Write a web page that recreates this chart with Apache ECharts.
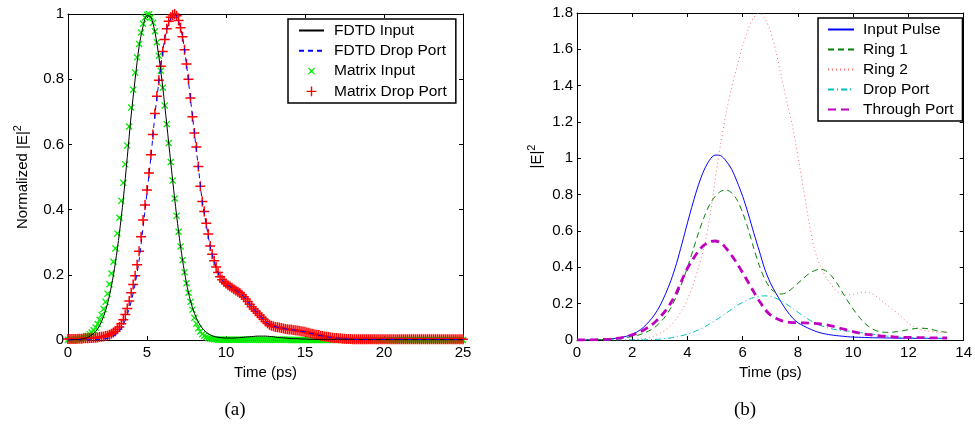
<!DOCTYPE html>
<html>
<head>
<meta charset="utf-8">
<script src="https://cdn.jsdelivr.net/npm/echarts@6/dist/echarts.min.js"></script>
<style>
html,body{margin:0;padding:0;background:#fff;}
#chart{width:975px;height:424px;}
</style>
</head>
<body>
<div id="chart"></div>
<script>
// ---------- Panel (a) ----------
const lineStepA = 0.25;      // ps between FDTD samples (0..25)
const markerStepA = 0.125;   // ps between matrix-method markers (0..25)
const xTicksA = [0, 25, 5];
const yTicksA = [0, 1, 0.2];

const fdtdInput = [
0,0.001,0.001,0.002,0.004,0.008,0.015,0.026,0.044,0.072,
0.111,0.166,0.237,0.327,0.432,0.56,0.69,0.80,0.90,0.962,
0.995,0.990,0.945,0.870,0.774,0.662,0.546,0.434,0.332,0.245,
0.174,0.120,0.082,0.055,0.036,0.024,0.016,0.011,0.008,0.007,
0.006,0.006,0.006,0.007,0.008,0.009,0.010,0.011,0.012,0.012,
0.012,0.011,0.010,0.008,0.007,0.006,0.005,0.004,0.004,0.003,
0.003,0.002,0.002,0.002,0.002,0.002,0.002,0.002,0.002,0.002,
0.002,0.002,0.002,0.001,0.001,0.001,0.001,0.001,0.001,0.001,
0.001,0.001,0.001,0.001,0.001,0.001,0.001,0.001,0.001,0.001,
0.001,0.001,0.001,0.001,0.001,0.001,0.001,0.001,0.001,0.001,
0.001];

const fdtdDrop = [
0,0,0,0,0,0,0.001,0.001,0.002,0.003,
0.005,0.009,0.016,0.027,0.047,0.077,0.118,0.172,0.245,0.345,
0.452,0.563,0.690,0.792,0.886,0.952,0.985,1.000,0.978,0.930,
0.845,0.740,0.635,0.530,0.425,0.355,0.287,0.242,0.206,0.184,
0.172,0.164,0.156,0.148,0.139,0.126,0.110,0.095,0.082,0.070,
0.056,0.047,0.042,0.039,0.037,0.034,0.032,0.031,0.029,0.027,
0.025,0.022,0.019,0.016,0.013,0.011,0.009,0.007,0.006,0.005,
0.004,0.003,0.002,0.002,0.002,0.002,0.002,0.002,0.002,0.002,
0.002,0.002,0.002,0.002,0.002,0.001,0.001,0.001,0.001,0.001,
0.001,0.001,0.001,0.001,0.001,0.001,0.001,0.001,0.001,0.001,
0.001];

const matrixInput = [
0.001,0.001,0.001,0.001,0.002,0.003,0.004,0.005,0.007,0.010,
0.013,0.018,0.023,0.030,0.038,0.049,0.062,0.077,0.095,0.117,
0.142,0.171,0.204,0.240,0.281,0.327,0.375,0.427,0.482,0.539,
0.597,0.655,0.713,0.768,0.820,0.867,0.908,0.943,0.970,0.989,
0.998,0.999,0.990,0.973,0.947,0.913,0.872,0.826,0.774,0.719,
0.662,0.604,0.546,0.489,0.434,0.381,0.332,0.287,0.245,0.208,
0.174,0.145,0.117,0.093,0.068,0.050,0.036,0.026,0.018,0.013,
0.009,0.006,0.004,0.003,0.002,0.002,0.001,0.001,0.001,0.001,
0.001,0.001,0.001,0.001,0.001,0.001,0.001,0.001,0.001,0.001,
0.001,0.001,0.001,0.001,0.001,0.001,0.001,0.001,0.001,0.001,
0.001,0.001,0.001,0.001,0.001,0.001,0.001,0.001,0.001,0.001,
0.001,0.001,0.001,0,0,0,0,0,0,0,
0,0,0,0,0,0,0,0,0,0,
0,0,0,0,0,0,0,0,0,0,
0,0,0,0,0,0,0,0,0,0,
0,0,0,0,0,0,0,0,0,0,
0,0,0,0,0,0,0,0,0,0,
0,0,0,0,0,0,0,0,0,0,
0,0,0,0,0,0,0,0,0,0,
0,0,0,0,0,0,0,0,0,0,
0];

const matrixDrop = [
0.003,0.003,0.003,0.003,0.003,0.004,0.004,0.004,0.005,0.005,
0.005,0.006,0.006,0.007,0.007,0.008,0.009,0.010,0.011,0.012,
0.014,0.016,0.019,0.023,0.027,0.033,0.040,0.050,0.062,0.078,
0.097,0.120,0.145,0.170,0.197,0.231,0.272,0.317,0.368,0.414,
0.460,0.512,0.568,0.630,0.695,0.748,0.797,0.840,0.885,0.922,
0.955,0.978,0.990,0.997,1.000,0.995,0.980,0.958,0.930,0.890,
0.847,0.800,0.742,0.685,0.635,0.592,0.532,0.472,0.425,0.394,
0.358,0.325,0.288,0.263,0.243,0.224,0.207,0.194,0.185,0.178,
0.173,0.168,0.164,0.160,0.156,0.152,0.148,0.144,0.139,0.133,
0.126,0.118,0.110,0.102,0.095,0.088,0.082,0.076,0.070,0.064,
0.057,0.051,0.047,0.044,0.042,0.040,0.039,0.038,0.037,0.035,
0.034,0.033,0.032,0.032,0.031,0.030,0.029,0.028,0.027,0.026,
0.025,0.023,0.022,0.020,0.019,0.017,0.016,0.015,0.013,0.012,
0.011,0.010,0.009,0.008,0.007,0.006,0.006,0.005,0.005,0.004,
0.004,0.003,0.003,0.003,0.002,0.002,0.002,0.002,0.002,0.002,
0.002,0.002,0.002,0.002,0.002,0.002,0.002,0.002,0.002,0.002,
0.002,0.002,0.002,0.002,0.002,0.002,0.002,0.002,0.002,0.002,
0.002,0.002,0.002,0.002,0.002,0.002,0.002,0.002,0.002,0.002,
0.002,0.002,0.002,0.002,0.002,0.002,0.002,0.002,0.002,0.002,
0.002,0.002,0.002,0.002,0.002,0.002,0.002,0.002,0.002,0.002,
0.002];

// ---------- Panel (b) ----------
const lineStepB = 0.2;       // ps between samples (0..13.4)
const xTicksB = [0, 14, 2];
const yTicksB = [0, 1.8, 0.2];

const inputPulse = [
0,0,0.001,0.001,0.002,0.003,0.005,0.009,0.014,0.021,
0.032,0.047,0.069,0.100,0.138,0.187,0.252,0.327,0.420,0.530,
0.645,0.755,0.855,0.935,0.990,1.018,1.015,0.985,0.940,0.870,
0.790,0.695,0.590,0.490,0.390,0.315,0.258,0.207,0.160,0.122,
0.095,0.078,0.063,0.050,0.040,0.033,0.028,0.024,0.021,0.018,
0.016,0.015,0.014,0.013,0.012,0.012,0.011,0.011,0.010,0.010,
0.010,0.009,0.009,0.009,0.009,0.009,0.009,0.009];

const ring1 = [
0,0,0,0.001,0.002,0.003,0.005,0.007,0.010,0.014,
0.019,0.026,0.036,0.050,0.068,0.095,0.130,0.178,0.240,0.315,
0.400,0.495,0.590,0.675,0.745,0.790,0.818,0.826,0.810,0.770,
0.700,0.610,0.505,0.410,0.335,0.285,0.260,0.253,0.262,0.285,
0.312,0.340,0.365,0.382,0.390,0.382,0.355,0.315,0.265,0.215,
0.170,0.130,0.095,0.070,0.053,0.045,0.042,0.043,0.046,0.051,
0.057,0.062,0.065,0.064,0.059,0.052,0.046,0.042];

const ring2 = [
0,0,0,0,0,0,0,0,0,0,
0.002,0.004,0.007,0.012,0.022,0.036,0.055,0.082,0.118,0.165,
0.225,0.300,0.400,0.510,0.670,0.880,1.080,1.250,1.390,1.510,
1.620,1.710,1.775,1.800,1.770,1.700,1.590,1.450,1.310,1.180,
1.010,0.830,0.650,0.500,0.410,0.350,0.305,0.268,0.252,0.248,
0.252,0.260,0.263,0.260,0.245,0.220,0.195,0.170,0.148,0.120,
0.092,0.073,0.060,0.052,0.047,0.044,0.041,0.039];

const dropPort = [
0,0,0,0,0,0,0,0,0,0,
0.001,0.001,0.001,0.002,0.003,0.005,0.008,0.012,0.017,0.024,
0.032,0.043,0.056,0.071,0.088,0.107,0.127,0.148,0.170,0.190,
0.208,0.223,0.234,0.241,0.243,0.240,0.230,0.215,0.196,0.175,
0.153,0.132,0.112,0.095,0.081,0.070,0.062,0.056,0.052,0.049,
0.046,0.042,0.038,0.034,0.030,0.026,0.022,0.019,0.016,0.014,
0.012,0.011,0.010,0.010,0.009,0.009,0.009,0.009];

const throughPort = [
0,0,0.001,0.001,0.002,0.003,0.005,0.008,0.012,0.019,
0.028,0.039,0.054,0.072,0.095,0.125,0.160,0.205,0.260,0.330,
0.395,0.445,0.490,0.522,0.540,0.545,0.535,0.505,0.465,0.420,
0.370,0.318,0.265,0.215,0.170,0.138,0.120,0.107,0.099,0.096,
0.095,0.094,0.093,0.091,0.088,0.084,0.078,0.070,0.062,0.054,
0.046,0.039,0.033,0.029,0.025,0.022,0.020,0.018,0.016,0.015,
0.014,0.014,0.013,0.013,0.012,0.012,0.011,0.011];

// ---------- build ----------
const FONT = '"Liberation Sans", Arial, Helvetica, sans-serif';
const toPairs = (arr, step) => arr.map((v, i) => [Math.round(i * step * 1000) / 1000, v]);

const PLUS = 'path://M4.25,0 L5.75,0 L5.75,4.25 L10,4.25 L10,5.75 L5.75,5.75 L5.75,10 L4.25,10 L4.25,5.75 L0,5.75 L0,4.25 L4.25,4.25 Z';
const CROSS = 'path://M0,1.3 L1.3,0 L5,3.7 L8.7,0 L10,1.3 L6.3,5 L10,8.7 L8.7,10 L5,6.3 L1.3,10 L0,8.7 L3.7,5 Z';
const PLUS_ICON = 'path://M0,0 M25,14 M11.8,2.2 L13.2,2.2 L13.2,6.3 L17.3,6.3 L17.3,7.7 L13.2,7.7 L13.2,11.8 L11.8,11.8 L11.8,7.7 L7.7,7.7 L7.7,6.3 L11.8,6.3 Z';
const CROSS_ICON = 'path://M0,0 M25,14 M9,4.4 L9.9,3.5 L12.5,6.1 L15.1,3.5 L16,4.4 L13.4,7 L16,9.6 L15.1,10.5 L12.5,7.9 L9.9,10.5 L9,9.6 L11.6,7 Z';
const NO_SYMBOL = {opacity: 0};
const SUP = {s: {fontFamily: FONT, fontSize: 11, verticalAlign: 'top', lineHeight: 11, color: '#000'}};

function mkX(gridIndex, ticks, pos, withLabels, name) {
  return {
    type: 'value', gridIndex, position: pos,
    min: ticks[0], max: ticks[1], interval: ticks[2],
    axisLine: {show: true, onZero: false, lineStyle: {color: '#000', width: 1}},
    axisTick: {show: true, inside: true, length: 4, lineStyle: {color: '#000'}},
    axisLabel: {show: withLabels, color: '#000', fontFamily: FONT, fontSize: 15, margin: 5},
    splitLine: {show: false},
    name: name || '', nameLocation: 'middle', nameGap: 23,
    nameTextStyle: {color: '#000', fontFamily: FONT, fontSize: 15}
  };
}
function mkY(gridIndex, ticks, pos, withLabels, name, gap, pad) {
  return {
    type: 'value', gridIndex, position: pos,
    min: ticks[0], max: ticks[1], interval: ticks[2],
    axisLine: {show: true, onZero: false, lineStyle: {color: '#000', width: 1}},
    axisTick: {show: true, inside: true, length: 4, lineStyle: {color: '#000'}},
    axisLabel: {show: withLabels, color: '#000', fontFamily: FONT, fontSize: 15, margin: 4},
    splitLine: {show: false},
    name: name || '', nameLocation: 'middle', nameRotate: 90, nameGap: gap || 30,
    nameTextStyle: {color: '#000', fontFamily: FONT, fontSize: 15, lineHeight: 22, verticalAlign: 'bottom', padding: pad || 0, rich: SUP}
  };
}

const legendCommon = {
  orient: 'vertical', itemHeight: 14, selectedMode: false,
  borderColor: '#000', borderWidth: 1.5, backgroundColor: '#fff',
  textStyle: {fontFamily: FONT, fontSize: 15.5, color: '#000', padding: [0, 0, 0, 5]}
};

const option = {
  animation: false,
  backgroundColor: '#fff',
  grid: [
    {left: 68, top: 14, width: 395, height: 326},
    {left: 577, top: 13, width: 390, height: 327}
  ],
  xAxis: [
    mkX(0, xTicksA, 'bottom', true, 'Time (ps)'),
    mkX(0, xTicksA, 'top', false),
    mkX(1, xTicksB, 'bottom', true, 'Time (ps)'),
    mkX(1, xTicksB, 'top', false)
  ],
  yAxis: [
    mkY(0, yTicksA, 'left', true, 'Normalized |E|{s|2}', 34),
    mkY(0, yTicksA, 'right', false),
    mkY(1, yTicksB, 'left', true, '|E|{s|2}', 26, [0, 0, 0, 40]),
    mkY(1, yTicksB, 'right', false)
  ],
  legend: [
    Object.assign({}, legendCommon, {
      left: 288, top: 19, itemWidth: 25, itemGap: 4.3,
      padding: [3.5, 9, 3.5, 10],
      data: [{name: 'FDTD Input', itemStyle: NO_SYMBOL},
             {name: 'FDTD Drop Port', itemStyle: NO_SYMBOL},
             {name: 'Matrix Input', icon: CROSS_ICON, itemStyle: {color: '#00ee00', borderWidth: 0}},
             {name: 'Matrix Drop Port', icon: PLUS_ICON, itemStyle: {color: '#ff0000', borderWidth: 0}}]
    }),
    Object.assign({}, legendCommon, {
      left: 818, top: 18, itemWidth: 26, itemGap: 4,
      padding: [3.5, 9, 3.5, 9],
      textStyle: {fontFamily: FONT, fontSize: 15.5, color: '#000', padding: [0, 0, 0, 4]},
      data: ['Input Pulse', 'Ring 1', 'Ring 2', 'Drop Port', 'Through Port'].map(n => ({name: n, itemStyle: NO_SYMBOL}))
    })
  ],
  graphic: [
    {type: 'text', x: 235, y: 410, style: {text: '(a)', fontFamily: '"Liberation Serif", "Times New Roman", serif', fontSize: 19, fill: '#000', align: 'center', verticalAlign: 'middle'}},
    {type: 'text', x: 745, y: 410, style: {text: '(b)', fontFamily: '"Liberation Serif", "Times New Roman", serif', fontSize: 19, fill: '#000', align: 'center', verticalAlign: 'middle'}}
  ],
  series: [
    {type: 'line', name: 'FDTD Input', xAxisIndex: 0, yAxisIndex: 0, data: toPairs(fdtdInput, lineStepA),
     symbol: 'none', smooth: 0.3, silent: true, lineStyle: {color: '#000', width: 1}, itemStyle: {color: '#000'}},
    {type: 'line', name: 'FDTD Drop Port', xAxisIndex: 0, yAxisIndex: 0, data: toPairs(fdtdDrop, lineStepA),
     symbol: 'none', smooth: 0.3, silent: true, lineStyle: {color: '#0000ff', width: 1, type: [5, 4]}, itemStyle: {color: '#0000ff'}},
    {type: 'scatter', name: 'Matrix Input', xAxisIndex: 0, yAxisIndex: 0, data: toPairs(matrixInput, markerStepA),
     symbol: CROSS, symbolSize: 7, silent: true, itemStyle: {color: '#00ee00', opacity: 1}},
    {type: 'scatter', name: 'Matrix Drop Port', xAxisIndex: 0, yAxisIndex: 0, data: toPairs(matrixDrop, markerStepA),
     symbol: PLUS, symbolSize: 10, silent: true, itemStyle: {color: '#ff0000', opacity: 1}},

    {type: 'line', name: 'Input Pulse', xAxisIndex: 2, yAxisIndex: 2, data: toPairs(inputPulse, lineStepB),
     symbol: 'none', smooth: 0.3, silent: true, lineStyle: {color: '#0000ff', width: 1}, itemStyle: {color: '#0000ff'}},
    {type: 'line', name: 'Ring 1', xAxisIndex: 2, yAxisIndex: 2, data: toPairs(ring1, lineStepB),
     symbol: 'none', smooth: 0.3, silent: true, lineStyle: {color: '#008000', width: 1, type: [6, 4]}, itemStyle: {color: '#008000'}},
    {type: 'line', name: 'Ring 2', xAxisIndex: 2, yAxisIndex: 2, data: toPairs(ring2, lineStepB),
     symbol: 'none', smooth: 0.3, silent: true, lineStyle: {color: '#ff6a6a', width: 1, type: [1, 3]}, itemStyle: {color: '#ff6a6a'}},
    {type: 'line', name: 'Drop Port', xAxisIndex: 2, yAxisIndex: 2, data: toPairs(dropPort, lineStepB),
     symbol: 'none', smooth: 0.3, silent: true, lineStyle: {color: '#00bfbf', width: 1, type: [6, 3, 1, 3]}, itemStyle: {color: '#00bfbf'}},
    {type: 'line', name: 'Through Port', xAxisIndex: 2, yAxisIndex: 2, data: toPairs(throughPort, lineStepB),
     symbol: 'none', smooth: 0.3, silent: true, lineStyle: {color: '#bf00bf', width: 2.8, type: [8, 5]}, itemStyle: {color: '#bf00bf'}}
  ]
};

const chart = echarts.init(document.getElementById('chart'), null, {renderer: 'canvas'});
chart.setOption(option);
</script>
</body>
</html>
